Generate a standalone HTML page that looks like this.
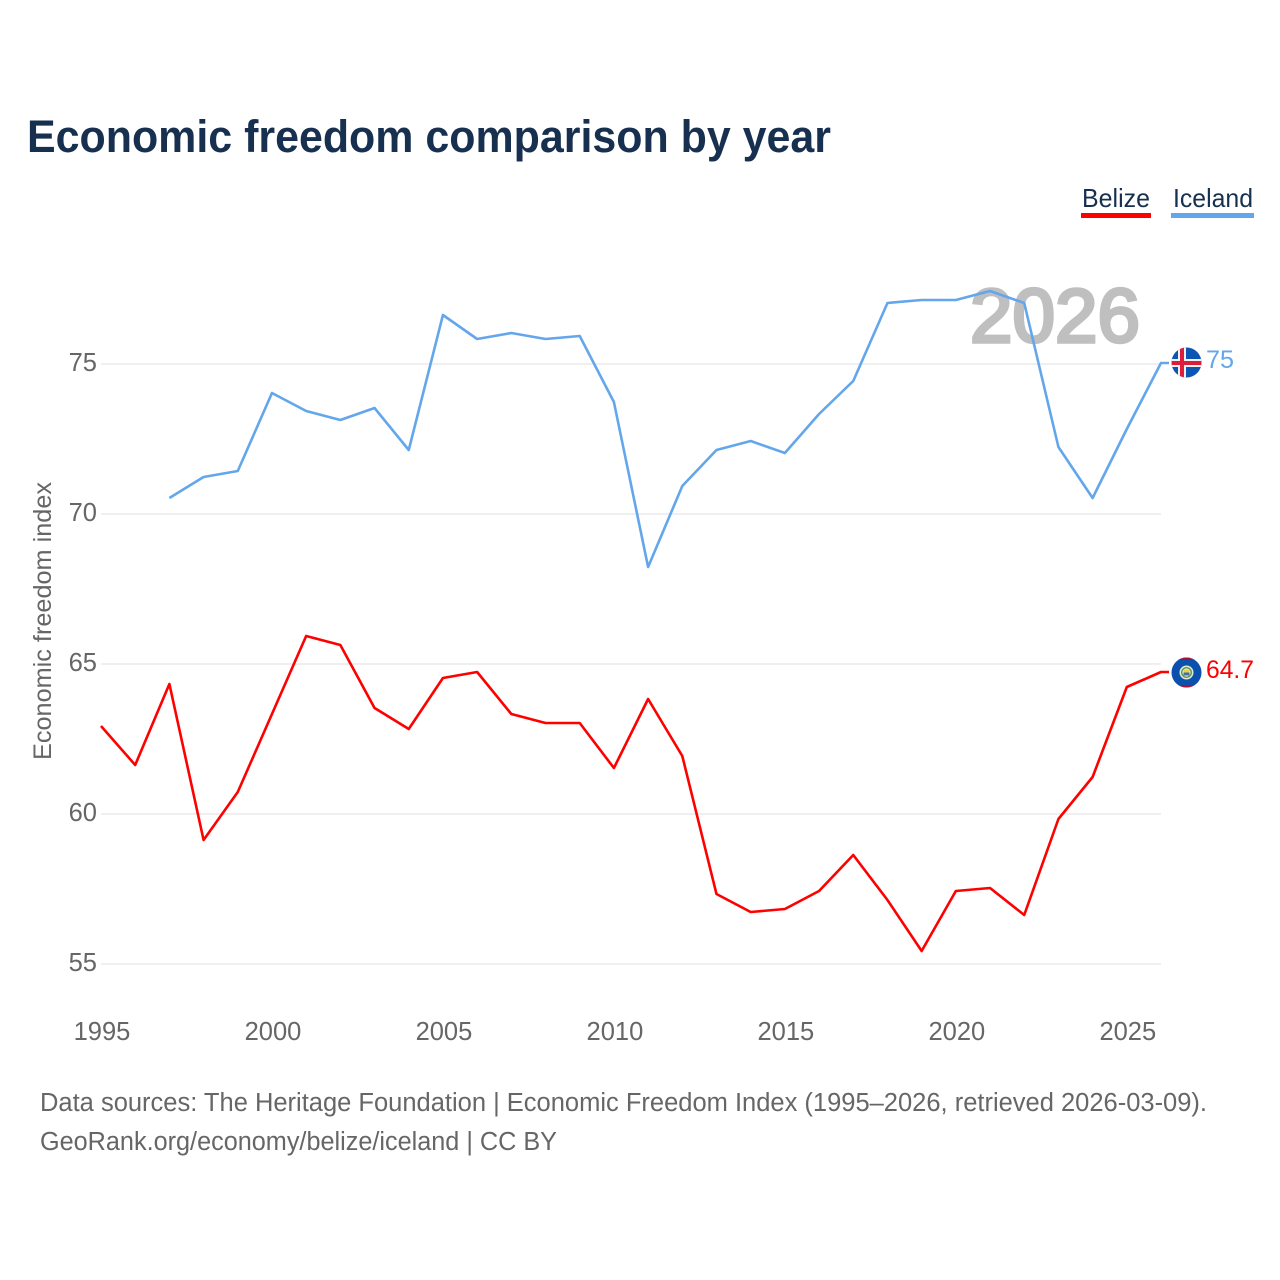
<!DOCTYPE html>
<html lang="en">
<head>
<meta charset="utf-8">
<title>Economic freedom comparison by year</title>
<style>
html,body{margin:0;padding:0;background:#fff}
svg{display:block}
text{font-family:"Liberation Sans",sans-serif}
</style>
</head>
<body>
<svg id="chart" width="1280" height="1280" viewBox="0 0 1280 1280" xmlns="http://www.w3.org/2000/svg">
  <defs>
    <clipPath id="clip-iceland"><circle cx="1186.5" cy="362.5" r="15"/></clipPath>
    <clipPath id="clip-belize"><circle cx="1186.5" cy="672.5" r="15"/></clipPath>
  </defs>
  <rect width="1280" height="1280" fill="#fff"/>
  <text x="27" y="152" font-size="45" font-weight="700" fill="#18304f" textLength="804" lengthAdjust="spacingAndGlyphs">Economic freedom comparison by year</text>

  <g>
    <text x="1082" y="207" font-size="26" fill="#18304f" textLength="68" lengthAdjust="spacingAndGlyphs">Belize</text>
    <rect x="1081" y="213" width="70" height="5" fill="#ff0000"/>
  </g>
  <g>
    <text x="1173" y="207" font-size="26" fill="#18304f" textLength="80" lengthAdjust="spacingAndGlyphs">Iceland</text>
    <rect x="1171" y="213" width="83" height="5" fill="#63a6ec"/>
  </g>

  <g id="grid"></g>
  <text x="970" y="342" font-size="76" font-weight="400" fill="#bfbfbf" stroke="#bfbfbf" stroke-width="3.4" textLength="170" lengthAdjust="spacingAndGlyphs">2026</text>
  <g id="y-axis"></g>
  <g id="x-axis"></g>
  <text transform="translate(51,621) rotate(-90)" text-anchor="middle" font-size="25" fill="#666" textLength="278" lengthAdjust="spacingAndGlyphs">Economic freedom index</text>
  <g id="series"></g>

  <g clip-path="url(#clip-iceland)">
    <rect x="1171" y="347" width="31" height="31" fill="#0b55b5"/>
    <rect x="1178" y="347" width="8" height="31" fill="#f2f2f2"/>
    <rect x="1171" y="359" width="31" height="8" fill="#f2f2f2"/>
    <rect x="1180" y="347" width="4" height="31" fill="#dc1e3c"/>
    <rect x="1171" y="361" width="31" height="4" fill="#dc1e3c"/>
  </g>
  <g clip-path="url(#clip-belize)">
    <rect x="1171" y="657" width="31" height="31" fill="#0b50ac"/>
    <rect x="1171" y="657" width="31" height="3" fill="#a81034"/>
    <rect x="1171" y="685" width="31" height="3" fill="#a81034"/>
    <circle cx="1186.5" cy="672.5" r="7" fill="#dfe8d0"/>
    <circle cx="1186.5" cy="672.5" r="5.5" fill="#5f9a63"/>
    <circle cx="1186.5" cy="672.5" r="4" fill="#f4f4ea"/>
    <rect x="1183.5" y="669.5" width="6" height="3" fill="#f0cf3c"/>
    <rect x="1183.5" y="672.5" width="6" height="3" fill="#3f6fb0"/>
  </g>
  <text x="1206" y="368" font-size="25" fill="#63a6ec" textLength="28" lengthAdjust="spacingAndGlyphs">75</text>
  <text x="1206" y="678" font-size="25" fill="#ff0000" textLength="48" lengthAdjust="spacingAndGlyphs">64.7</text>

  <text x="40" y="1111" font-size="25.5" fill="#666" textLength="1167" lengthAdjust="spacingAndGlyphs">Data sources: The Heritage Foundation | Economic Freedom Index (1995–2026, retrieved 2026-03-09).</text>
  <text x="40" y="1150" font-size="25.5" fill="#666" textLength="517" lengthAdjust="spacingAndGlyphs">GeoRank.org/economy/belize/iceland | CC BY</text>
</svg>
<script>
const years = [1995,1996,1997,1998,1999,2000,2001,2002,2003,2004,2005,2006,2007,2008,2009,2010,2011,2012,2013,2014,2015,2016,2017,2018,2019,2020,2021,2022,2023,2024,2025,2026];
const belizeValues = [62.9,61.6,64.3,59.1,60.7,63.3,65.9,65.6,63.5,62.8,64.5,64.7,63.3,63.0,63.0,61.5,63.8,61.9,57.3,56.7,56.8,57.4,58.6,57.1,55.4,57.4,57.5,56.6,59.8,61.2,64.2,64.7];
const icelandValues = [null,null,70.5,71.2,71.4,74.0,73.4,73.1,73.5,72.1,76.6,75.8,76.0,75.8,75.9,73.7,68.2,70.9,72.1,72.4,72.0,73.3,74.4,77.0,77.1,77.1,77.4,77.0,72.2,70.5,72.8,75.0];
const yTicks = [55,60,65,70,75];
const xTicks = [1995,2000,2005,2010,2015,2020,2025];

const NS = 'http://www.w3.org/2000/svg';
function xScale(year){ return 101 + (year - 1995) * (1161 - 101) / 31; }
function yScale(v){ return 964 - (v - 55) * 30; }
function make(tag, attrs, parent){
  const el = document.createElementNS(NS, tag);
  for (const k in attrs) el.setAttribute(k, attrs[k]);
  parent.appendChild(el);
  return el;
}
const gridG = document.getElementById('grid');
const yG = document.getElementById('y-axis');
const xG = document.getElementById('x-axis');
const seriesG = document.getElementById('series');

yTicks.forEach(function(t){
  const line = make('line', {x1:101, x2:1161, y1:yScale(t), y2:yScale(t), stroke:'#efefef', 'stroke-width':2}, gridG);
  
  
  const label = make('text', {x:97, y:yScale(t)+7, 'text-anchor':'end', 'font-size':25.5, fill:'#666'}, yG);
  
  
  label.textContent = t;
});
xTicks.forEach(function(t){
  const label = make('text', {x:xScale(t)+1, y:1040, 'text-anchor':'middle', 'font-size':25.5, fill:'#666'}, xG);
  
  
  label.textContent = t;
});
function drawSeries(values, color, name){
  let d = '', last = null;
  values.forEach(function(v, i){
    if (v === null) return;
    d += (d ? 'L' : 'M') + xScale(years[i]).toFixed(2) + ' ' + (yScale(v) - 1).toFixed(2);
    last = v;
  });
  d += 'L' + (xScale(years[years.length-1]) + 8).toFixed(2) + ' ' + (yScale(last) - 1).toFixed(2);
  const path = make('path', {d:d, fill:'none', stroke:color, 'stroke-width':2.6, 'stroke-linejoin':'round'}, seriesG);
  
  
}
drawSeries(icelandValues, '#63a6ec', 'line-iceland');
drawSeries(belizeValues, '#ff0000', 'line-belize');
</script>
</body>
</html>
